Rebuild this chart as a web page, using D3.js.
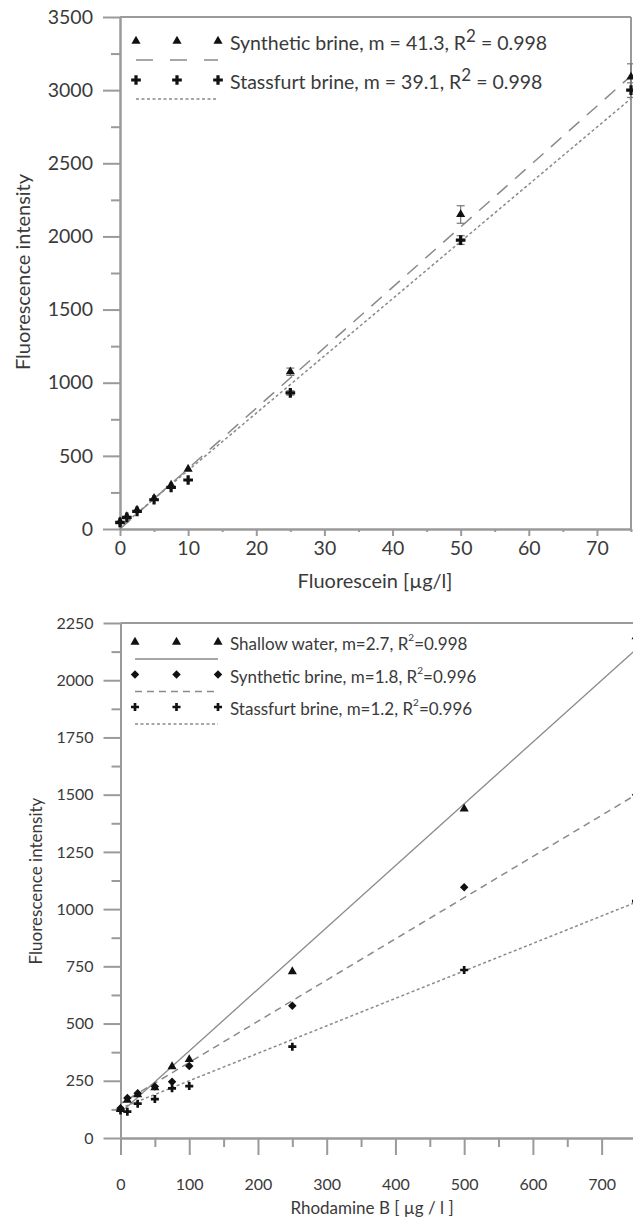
<!DOCTYPE html>
<html><head><meta charset="utf-8">
<script src="https://cdn.jsdelivr.net/npm/d3@7"></script>
<style>
body{margin:0;background:#fff}
svg text{font-family:Lato,"Open Sans",sans-serif;fill:#3a3a3a}
</style>
</head><body>
<svg id="c" width="633" height="1218"></svg>
<script>
// ---------- Top chart (Fluorescein) ----------
const fluoConc = [0, 1, 2.5, 5, 7.5, 10, 25, 50, 75];
const fluoSynthetic = [50, 85, 130, 210, 300, 410, 1075, 2150, 3090];
const fluoSyntheticErr = [0, 0, 0, 0, 0, 0, 25, 60, 90];
const fluoStassfurt = [45, 80, 120, 200, 285, 335, 930, 1975, 3000];
const fluoStassfurtErr = [0, 0, 0, 0, 0, 0, 15, 30, 50];
const fluoSlopes = [41.3, 39.1];
const fluoIntercepts = [0, 10];
const fluoLegend = [
  ["Synthetic brine, m = 41.3, R", "2", " = 0.998"],
  ["Stassfurt brine, m = 39.1, R", "2", " = 0.998"]
];
const fluoYTicks = [0, 500, 1000, 1500, 2000, 2500, 3000, 3500];
const fluoYMinor = [250, 750, 1250, 1750, 2250, 2750, 3250];
const fluoXTicks = [0, 10, 20, 30, 40, 50, 60, 70];
const fluoXMinor = [5, 15, 25, 35, 45, 55, 65, 75];

// ---------- Bottom chart (Rhodamine B) ----------
const rhoConc = [0, 10, 25, 50, 75, 100, 250, 500, 750];
const rhoShallow = [125, 165, 190, 220, 312, 343, 727, 1438, 2190];
const rhoSynthetic = [130, 175, 195, 225, 246, 315, 578, 1096, 1500];
const rhoStassfurt = [120, 115, 150, 170, 217, 227, 399, 734, 1035];
const rhoSlopes = [2.7, 1.8, 1.2];
const rhoIntercepts = [110, 150, 130];
const rhoLegend = [
  ["Shallow water, m=2.7, R", "2", "=0.998"],
  ["Synthetic brine, m=1.8, R", "2", "=0.996"],
  ["Stassfurt brine, m=1.2, R", "2", "=0.996"]
];
const rhoYTicks = [0, 250, 500, 750, 1000, 1250, 1500, 1750, 2000, 2250];
const rhoYMinor = [125, 375, 625, 875, 1125, 1375, 1625, 1875, 2125];
const rhoXTicks = [0, 100, 200, 300, 400, 500, 600, 700];
const rhoXMinor = [50, 150, 250, 350, 450, 550, 650, 750];

const svg = d3.select("#c");
const AX = "#9a9a9a", LN = "#8a8a8a";
const fmt = d3.format("d");

function styleAxis(g) {
  g.selectAll("path.domain").attr("stroke", AX).attr("stroke-width", 2);
  g.selectAll(".tick line").attr("stroke", AX).attr("stroke-width", 2);
  g.selectAll(".tick text").attr("fill", "#3a3a3a").style("font-family", "Lato,'Open Sans',sans-serif");
}

function marker(type) {
  if (type === "tri") return {d: d3.symbol(d3.symbolTriangle, 36)(), rot: 0};
  if (type === "dia") return {d: d3.symbol(d3.symbolSquare, 36)(), rot: 45};
  if (type === "crossBold") return {d: d3.symbol(d3.symbolCross, 52)(), rot: 0};
  return {d: d3.symbol(d3.symbolCross, 36)(), rot: 0};
}

function drawChart(cfg) {
  const {x, y, xTicks, xMinor, yTicks, yMinor, xTickLen, xMinorLen, fs, xPad} = cfg;
  const g = svg.append("g");
  if (cfg.frameRight) {
    g.append("line").attr("x1", x(x.domain()[1])).attr("x2", x(x.domain()[1]))
      .attr("y1", y(y.domain()[1])).attr("y2", y(0)).attr("stroke", AX).attr("stroke-width", 2);
  }
  g.append("line").attr("x1", x(0)).attr("x2", cfg.frameRightEdge)
    .attr("y1", y(y.domain()[1])).attr("y2", y(y.domain()[1])).attr("stroke", AX).attr("stroke-width", 2);

  const yMin = g.append("g").attr("transform", `translate(${x(0)},0)`)
    .call(d3.axisLeft(y).tickValues(yMinor).tickSize(9).tickSizeOuter(0).tickFormat(""));
  styleAxis(yMin);
  const xMin = g.append("g").attr("transform", `translate(0,${y(0)})`)
    .call(d3.axisBottom(x).tickValues(xMinor).tickSize(xMinorLen).tickSizeOuter(0).tickFormat(""));
  styleAxis(xMin);
  const yAx = g.append("g").attr("transform", `translate(${x(0)},0)`)
    .call(d3.axisLeft(y).tickValues(yTicks).tickSize(17).tickPadding(10).tickSizeOuter(0).tickFormat(fmt));
  styleAxis(yAx);
  yAx.selectAll(".tick text").attr("font-size", fs);
  const xAx = g.append("g").attr("transform", `translate(0,${y(0)})`)
    .call(d3.axisBottom(x).tickValues(xTicks).tickSize(xTickLen).tickPadding(xPad).tickSizeOuter(0).tickFormat(fmt));
  styleAxis(xAx);
  xAx.selectAll(".tick text").attr("font-size", fs);

  g.append("text").attr("x", cfg.xTitle[0]).attr("y", cfg.xTitle[1])
    .attr("text-anchor", "middle").attr("dominant-baseline", "central")
    .attr("font-size", cfg.titleFs).text(cfg.xLabel);
  g.append("text").attr("transform", `translate(${cfg.yTitle[0]},${cfg.yTitle[1]}) rotate(-90)`)
    .attr("text-anchor", "middle").attr("dominant-baseline", "central")
    .attr("font-size", cfg.titleFs).text(cfg.yLabel);

  cfg.series.forEach(s => {
    const xs = [0, x.domain()[1]];
    g.append("path")
      .attr("d", d3.line().x(d => x(d)).y(d => y(s.slope * d + s.intercept))(xs))
      .attr("fill", "none").attr("stroke", LN).attr("stroke-width", s.lw || 1.5)
      .attr("stroke-dasharray", s.dash);
  });
  cfg.series.forEach(s => {
    if (!s.err) return;
    cfg.xs.forEach((cx, i) => {
      const e = s.err[i];
      if (!e) return;
      const px = x(cx), y1 = y(s.values[i] - e), y2 = y(s.values[i] + e);
      g.append("line").attr("x1", px).attr("x2", px).attr("y1", y1).attr("y2", y2).attr("stroke", "#777").attr("stroke-width", 1.2);
      [y1, y2].forEach(yy => g.append("line").attr("x1", px - 4).attr("x2", px + 4).attr("y1", yy).attr("y2", yy).attr("stroke", "#777").attr("stroke-width", 1.2));
    });
  });
  cfg.series.forEach(s => {
    const m = marker(s.marker);
    g.selectAll(null).data(cfg.xs).enter().append("path")
      .attr("d", m.d)
      .attr("transform", (d, i) => `translate(${x(d)},${y(s.values[i])}) rotate(${m.rot})`)
      .attr("fill", "#111");
  });

  const L = cfg.legend;
  cfg.series.forEach((s, i) => {
    const my = L.y0 + i * L.dy;
    const m = marker(s.marker);
    [L.x1, (L.x1 + L.x2) / 2, L.x2].forEach(mx => {
      g.append("path").attr("d", m.d).attr("transform", `translate(${mx},${my}) rotate(${m.rot})`).attr("fill", "#111");
    });
    g.append("line").attr("x1", L.x1).attr("x2", L.x2).attr("y1", my + L.lineOff).attr("y2", my + L.lineOff)
      .attr("stroke", LN).attr("stroke-width", s.lw || 1.5).attr("stroke-dasharray", s.legendDash || s.dash);
    const t = g.append("text").attr("x", L.tx).attr("y", my + 1).attr("dominant-baseline", "central").attr("font-size", L.fs);
    const parts = s.label;
    t.append("tspan").text(parts[0]);
    t.append("tspan").attr("font-size", L.supFs).attr("dy", L.supDy).text(parts[1]);
    t.append("tspan").attr("dy", -L.supDy).text(parts[2]);
  });
}

const xTop = d3.scaleLinear().domain([0, 75]).range([120, 631]);
const yTop = d3.scaleLinear().domain([0, 3500]).range([529, 17]);
drawChart({
  x: xTop, y: yTop, xTicks: fluoXTicks, xMinor: fluoXMinor, yTicks: fluoYTicks, yMinor: fluoYMinor,
  xTickLen: 7, xMinorLen: 3, fs: 19.5, xPad: 5, frameRight: true, frameRightEdge: 631,
  xs: fluoConc, titleFs: 20,
  xLabel: "Fluorescein [µg/l]", xTitle: [375, 580],
  yLabel: "Fluorescence intensity", yTitle: [22, 272],
  series: [
    {values: fluoSynthetic, err: fluoSyntheticErr, slope: fluoSlopes[0], intercept: fluoIntercepts[0], marker: "tri", dash: "14,10", legendDash: "17,17", label: fluoLegend[0]},
    {values: fluoStassfurt, err: fluoStassfurtErr, slope: fluoSlopes[1], intercept: fluoIntercepts[1], marker: "crossBold", dash: "3,2.5", label: fluoLegend[1]}
  ],
  legend: {x1: 136, x2: 218, y0: 41, dy: 39, lineOff: 19, tx: 230, fs: 19.5, supFs: 17, supDy: -7}
});

const xBot = d3.scaleLinear().domain([0, 750]).range([120.5, 636]);
const yBot = d3.scaleLinear().domain([0, 2250]).range([1138, 623]);
drawChart({
  x: xBot, y: yBot, xTicks: rhoXTicks, xMinor: rhoXMinor, yTicks: rhoYTicks, yMinor: rhoYMinor,
  xTickLen: 17, xMinorLen: 9, fs: 16, xPad: 24, frameRight: false, frameRightEdge: 633,
  xs: rhoConc, titleFs: 17,
  xLabel: "Rhodamine B [ µg / l ]", xTitle: [372, 1207],
  yLabel: "Fluorescence intensity", yTitle: [35, 881],
  series: [
    {values: rhoShallow, slope: rhoSlopes[0], intercept: rhoIntercepts[0], marker: "tri", dash: null, lw: 1.3, label: rhoLegend[0]},
    {values: rhoSynthetic, slope: rhoSlopes[1], intercept: rhoIntercepts[1], marker: "dia", dash: "7,5", label: rhoLegend[1]},
    {values: rhoStassfurt, slope: rhoSlopes[2], intercept: rhoIntercepts[2], marker: "cross", dash: "3,2.5", label: rhoLegend[2]}
  ],
  legend: {x1: 135, x2: 218, y0: 642, dy: 32.5, lineOff: 17, tx: 230, fs: 17, supFs: 10, supDy: -6}
});
</script>
</body></html>
